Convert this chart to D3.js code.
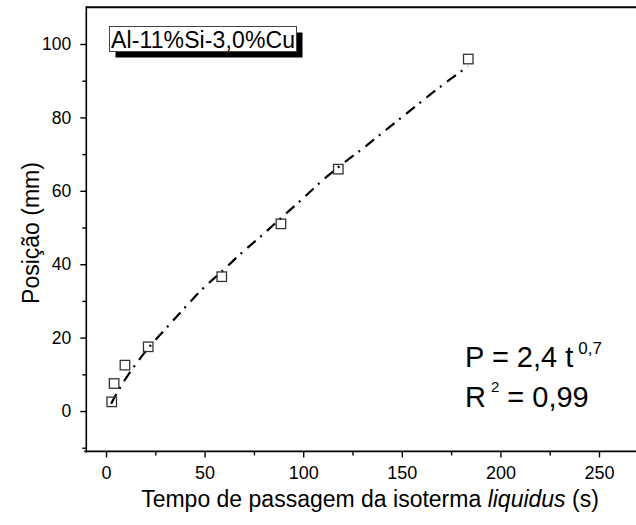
<!DOCTYPE html>
<html><head><meta charset="utf-8">
<script src="https://cdn.jsdelivr.net/npm/d3@7"></script>
<style>
html,body{margin:0;padding:0;background:#fff;overflow:hidden}
text{font-family:"Liberation Sans",Arimo,Arial,sans-serif;fill:#000}
</style></head>
<body>
<svg id="chart" width="636" height="525"></svg>
<script>
// Measured points
const timeValues = [2.9, 4.1, 9.6, 21.4, 58.7, 88.7, 117.8, 183.7];
const positionValues = [2.5, 7.5, 12.5, 17.5, 36.6, 51, 65.9, 95.9];
// Fitted curve
const fitTime = [2.6, 5.4, 13.0, 21.4, 30.4, 39.2, 48.8, 58.7, 68.8, 80, 90, 100, 109.9, 120.3, 131.3, 142, 152.5, 163.4, 174.1, 183.7];
const fitPosition = [2.0, 4.8, 11.2, 17.1, 22.5, 27.7, 33.2, 38.0, 43.1, 48.3, 53.2, 58.0, 62.9, 67.5, 72.0, 76.6, 81.1, 85.8, 90.2, 94.0];
const xMajorTicks = [0, 50, 100, 150, 200, 250];
const xMinorTicks = [25, 75, 125, 175, 225, 275];
const yMajorTicks = [0, 20, 40, 60, 80, 100];
const yMinorTicks = [-10, 10, 30, 50, 70, 90];
const legendLabel = "Al-11%Si-3,0%Cu";
const xTitle = ["Tempo de passagem da isoterma ", "liquidus", " (s)"];
const yTitle = "Posição (mm)";

const FONT = "'Liberation Sans', Arimo, Arial, sans-serif";
const svg = d3.select("#chart");
const x = d3.scaleLinear().domain([-10, 275]).range([86.3, 648.3]);
const y = d3.scaleLinear().domain([-11, 110]).range([451.4, 7.3]);

// frame lines
svg.append("line").attr("x1", x(-10)).attr("x2", 640).attr("y1", y(110)).attr("y2", y(110))
  .attr("stroke", "#000").attr("stroke-width", 2);

const gx = svg.append("g").attr("transform", `translate(0,${y(-11)})`);
gx.call(d3.axisBottom(x).tickValues(xMajorTicks).tickSize(6).tickSizeOuter(0).tickPadding(9).tickFormat(d3.format("d")));
gx.append("g").call(d3.axisBottom(x).tickValues(xMinorTicks).tickSize(4).tickFormat(""))
  .select(".domain").remove();
gx.selectAll(".domain").attr("d", `M${x(-11)},0H640`).attr("stroke-width", 1.6);
gx.selectAll(".tick line").attr("stroke-width", 1.4);
gx.selectAll(".tick text").attr("font-size", 18).style("font-family", FONT);

const gy = svg.append("g").attr("transform", `translate(${x(-10)},0)`);
gy.call(d3.axisLeft(y).tickValues(yMajorTicks).tickSize(6).tickSizeOuter(0).tickPadding(9).tickFormat(d3.format("d")));
gy.append("g").call(d3.axisLeft(y).tickValues(yMinorTicks).tickSize(4).tickFormat(""))
  .select(".domain").remove();
gy.selectAll(".domain").attr("d", `M0,${y(110)-1}V${y(-11)+1}`).attr("stroke-width", 1.6);
gy.selectAll(".tick line").attr("stroke-width", 1.4);
gy.selectAll(".tick text").attr("font-size", 17.5).style("font-family", FONT);

// fitted curve
const line = d3.line().x((d, i) => x(fitTime[i])).y((d, i) => y(fitPosition[i])).curve(d3.curveMonotoneX);
svg.append("path").datum(fitTime).attr("d", line).attr("fill", "none")
  .attr("stroke", "#000").attr("stroke-width", 2.2).attr("stroke-dasharray", "11,6,2,7");

// data squares
const s = 9.5;
svg.append("g").selectAll("rect").data(timeValues).join("rect")
  .attr("x", (d) => x(d) - s / 2).attr("y", (d, i) => y(positionValues[i]) - s / 2)
  .attr("width", s).attr("height", s).attr("fill", "none")
  .attr("stroke", "#333").attr("stroke-width", 1.3);

// legend box with shadow
const lg = svg.append("g");
lg.append("rect").attr("x", 115.5).attr("y", 32.5).attr("width", 187).attr("height", 25).attr("fill", "#000");
lg.append("rect").attr("x", 109.5).attr("y", 26.5).attr("width", 187).attr("height", 25)
  .attr("fill", "#fff").attr("stroke", "#444").attr("stroke-width", 1);
lg.append("text").attr("x", 111).attr("y", 47.5).attr("font-size", 23).attr("textLength", 184).text(legendLabel);

// equation
const eq1 = svg.append("text").attr("x", 465).attr("y", 367).attr("font-size", 29);
eq1.append("tspan").text("P = 2,4 t");
eq1.append("tspan").attr("dx", 5).attr("dy", -13).attr("font-size", 17).text("0,7");
const eq2 = svg.append("text").attr("x", 465).attr("y", 407).attr("font-size", 29);
eq2.append("tspan").text("R");
eq2.append("tspan").attr("dx", 5).attr("dy", -15).attr("font-size", 15).text("2");
eq2.append("tspan").attr("dx", 8).attr("dy", 15).text("= 0,99");

// axis titles
const xt = svg.append("text").attr("x", 370).attr("y", 507).attr("text-anchor", "middle").attr("font-size", 23);
xt.append("tspan").text(xTitle[0]);
xt.append("tspan").attr("font-style", "italic").text(xTitle[1]);
xt.append("tspan").text(xTitle[2]);
svg.append("text").attr("transform", "translate(39,233) rotate(-90)").attr("text-anchor", "middle")
  .attr("font-size", 23).text(yTitle);
</script>
</body></html>
